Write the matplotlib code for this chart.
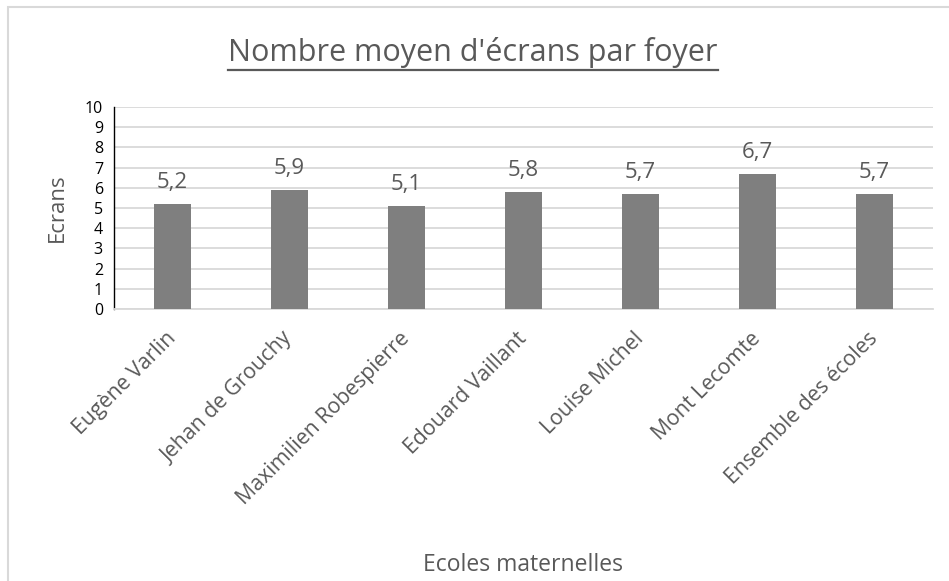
import matplotlib
matplotlib.use("Agg")
import matplotlib.pyplot as plt
from matplotlib.patches import Rectangle

plt.rcParams['font.family'] = ['Open Sans', 'DejaVu Sans']

# données
ecoles = ["Eugène Varlin", "Jehan de Grouchy", "Maximilien Robespierre",
          "Edouard Vaillant", "Louise Michel", "Mont Lecomte",
          "Ensemble des écoles"]
moyennes = [5.2, 5.9, 5.1, 5.8, 5.7, 6.7, 5.7]
yticks = list(range(0, 11))

TXT = "#595959"
GRID = "#d9d9d9"
BAR = "#7f7f7f"

fig = plt.figure(figsize=(9.49, 5.81), dpi=100)
W, H = 949, 581
# axes en pixels: gauche 114, droite 933, haut 107, bas 309
ax = fig.add_axes([114 / W, 1 - 309 / H, (933 - 114) / W, (309 - 107) / H])

x = list(range(len(ecoles)))
ax.bar(x, moyennes, width=0.31, color=BAR, zorder=3)
ax.set_xlim(-0.5, len(ecoles) - 0.5)
ax.set_ylim(0, 10)
ax.set_yticks(yticks)
ax.set_yticklabels([str(t) for t in yticks], fontsize=11.5, color="black")
ax.yaxis.grid(True, color=GRID, linewidth=1.3, zorder=0)
ax.tick_params(length=0)
ax.tick_params(axis='y', pad=8)

ax.set_xticks(x)
ax.set_xticklabels(ecoles, rotation=45, ha="right", va="center",
                   rotation_mode="anchor", fontsize=15.3, color=TXT)
ax.tick_params(axis='x', pad=19)

for s in ["top", "right"]:
    ax.spines[s].set_visible(False)
ax.spines["bottom"].set_color(GRID)
ax.spines["bottom"].set_linewidth(1.3)
ax.spines["left"].set_color("black")
ax.spines["left"].set_linewidth(1.0)

for xi, v in zip(x, moyennes):
    ax.annotate(f"{v:.1f}".replace(".", ","), (xi, v), xytext=(0, 8),
                textcoords="offset points", ha="center", va="bottom",
                fontsize=16, color=TXT)

ax.set_ylabel("Ecrans", fontsize=16, color=TXT, labelpad=12)

fig.text(523 / W, 1 - 565 / H, "Ecoles maternelles", ha="center", va="center",
         fontsize=16.5, color=TXT)

title = fig.text(473 / W, 1 - 53 / H, "Nombre moyen d'écrans par foyer",
                 ha="center", va="center", fontsize=22, color=TXT)

# soulignement du titre
fig.canvas.draw()
bb = title.get_window_extent()
uy = 1 - 70 / H
fig.add_artist(plt.Line2D([bb.x0 / W, bb.x1 / W], [uy, uy],
                          color=TXT, linewidth=1.6, transform=fig.transFigure))

# cadre du graphique
fig.add_artist(Rectangle((8 / W, -0.05), 1.0, 1 - 7 / H + 0.05,
                         transform=fig.transFigure, fill=False,
                         edgecolor=GRID, linewidth=1.5))

fig.savefig("out.png", dpi=100)
